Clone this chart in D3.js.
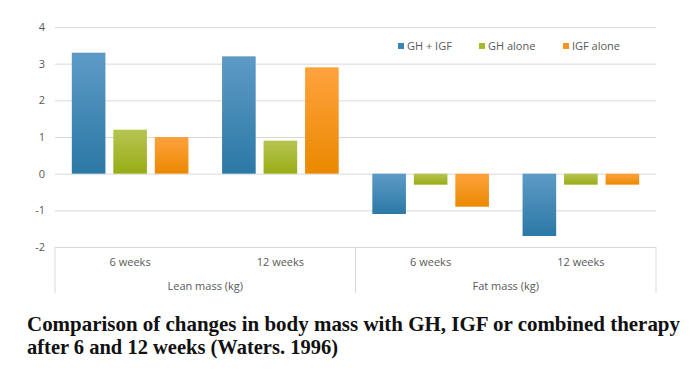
<!DOCTYPE html>
<html>
<head>
<meta charset="utf-8">
<script src="https://cdn.jsdelivr.net/npm/d3@7"></script>
<style>
  body { margin: 0; background: #fff; }
  svg { display: block; }
  .tick text { font-family: "Open Sans", sans-serif; font-size: 11px; fill: #595959; }
</style>
</head>
<body>
<div id="chart"></div>
<script>
// data
var groups = ["Lean mass (kg)", "Fat mass (kg)"];
var times = ["6 weeks", "12 weeks"];
var seriesNames = ["GH + IGF", "GH alone", "IGF alone"];
var ghIgf = [3.3, 3.2, -1.1, -1.7];
var ghAlone = [1.2, 0.9, -0.3, -0.3];
var igfAlone = [1.0, 2.9, -0.9, -0.3];
var yTicks = [-2, -1, 0, 1, 2, 3, 4];
var titleLines = [
  "Comparison of changes in body mass with GH, IGF or combined therapy",
  "after 6 and 12 weeks (Waters. 1996)"
];

var colors = [
  {top: "#5d9bc5", bottom: "#2c78a6", key: "#3a86b4"},
  {top: "#b6c552", bottom: "#98ad16", key: "#a6b92f"},
  {top: "#ffa23e", bottom: "#ea8900", key: "#f7931e"}
];

var svgWidth = 700, svgHeight = 374;
var plot = {left: 55, right: 656, top: 27, bottom: 247};

var svg = d3.select("#chart").append("svg")
  .attr("width", svgWidth)
  .attr("height", svgHeight);

// gradients for bars
var defs = svg.append("defs");
colors.forEach(function(c, i) {
  var g = defs.append("linearGradient")
    .attr("id", "grad" + i)
    .attr("x1", 0).attr("y1", 0).attr("x2", 0).attr("y2", 1);
  g.append("stop").attr("offset", "0%").attr("stop-color", c.top);
  g.append("stop").attr("offset", "100%").attr("stop-color", c.bottom);
});

// categories = group x time
var cats = [];
groups.forEach(function(g) {
  times.forEach(function(t) { cats.push(g + "|" + t); });
});

var values = [ghIgf, ghAlone, igfAlone];
var rows = cats.map(function(c, i) {
  return {cat: c, vals: values.map(function(v) { return v[i]; })};
});

var yScale = d3.scaleLinear().domain([-2, 4]).range([plot.bottom, plot.top]);
var x0 = d3.scaleBand().domain(cats).range([plot.left, plot.right]).padding(0);
var x1 = d3.scaleBand().domain(d3.range(3)).range([0, x0.bandwidth()])
  .paddingInner(0.19).paddingOuter(0.405);
var xGroup = d3.scaleBand().domain(groups).range([plot.left, plot.right]).padding(0);

// gridlines + y labels (plain hyphen for negatives, like the original)
var yAxis = d3.axisLeft(yScale)
  .tickValues(yTicks)
  .tickSize(-(plot.right - plot.left))
  .tickPadding(10)
  .tickFormat(function(d) { return String(d); });

svg.append("g")
  .attr("class", "yAxis")
  .attr("transform", "translate(" + plot.left + ",0)")
  .call(yAxis)
  .call(function(g) {
    g.select(".domain").remove();
    g.selectAll("line").attr("stroke", "#d9d9d9").attr("stroke-width", 1);
  });

// bars
var barGroups = svg.selectAll(".cat").data(rows).enter()
  .append("g")
  .attr("class", "cat")
  .attr("transform", function(d) { return "translate(" + x0(d.cat) + ",0)"; });

barGroups.selectAll("rect")
  .data(function(d) { return d.vals; })
  .enter()
  .append("rect")
  .attr("x", function(d, i) { return x1(i); })
  .attr("width", x1.bandwidth())
  .attr("y", function(d) { return yScale(Math.max(0, d)); })
  .attr("height", function(d) { return Math.abs(yScale(d) - yScale(0)); })
  .attr("fill", function(d, i) { return "url(#grad" + i + ")"; });

// multi level x axis
var axisG = svg.append("g").attr("class", "xAxis");
var axisBottom = 293;
[plot.left, xGroup("Fat mass (kg)"), plot.right].forEach(function(x) {
  axisG.append("line")
    .attr("x1", x).attr("x2", x)
    .attr("y1", plot.bottom).attr("y2", axisBottom)
    .attr("stroke", "#d9d9d9");
});

axisG.selectAll(".timeLabel").data(cats).enter()
  .append("text")
  .attr("class", "timeLabel")
  .attr("x", function(d) { return x0(d) + x0.bandwidth() / 2; })
  .attr("y", 266)
  .attr("text-anchor", "middle")
  .style("font-family", "Open Sans, sans-serif")
  .style("font-size", "11px")
  .style("fill", "#595959")
  .text(function(d) { return d.split("|")[1]; });

axisG.selectAll(".groupLabel").data(groups).enter()
  .append("text")
  .attr("class", "groupLabel")
  .attr("x", function(d) { return xGroup(d) + xGroup.bandwidth() / 2; })
  .attr("y", 290)
  .attr("text-anchor", "middle")
  .style("font-family", "Open Sans, sans-serif")
  .style("font-size", "11px")
  .style("fill", "#595959")
  .text(function(d) { return d; });

// legend
var legendX = [398, 479, 563];
var legend = svg.append("g").attr("class", "legend");
seriesNames.forEach(function(name, i) {
  legend.append("rect")
    .attr("x", legendX[i]).attr("y", 43)
    .attr("width", 6).attr("height", 6)
    .attr("fill", colors[i].key);
  legend.append("text")
    .attr("x", legendX[i] + 9).attr("y", 50)
    .style("font-family", "Open Sans, sans-serif")
    .style("font-size", "11px")
    .style("fill", "#595959")
    .text(name);
});

// title under the chart
var titleWidths = [653, 311];
svg.selectAll(".title").data(titleLines).enter()
  .append("text")
  .attr("class", "title")
  .attr("x", 27)
  .attr("y", function(d, i) { return 331 + i * 23; })
  .attr("textLength", function(d, i) { return titleWidths[i]; })
  .attr("lengthAdjust", "spacingAndGlyphs")
  .style("font-family", "Liberation Serif, serif")
  .style("font-weight", "bold")
  .style("font-size", "21px")
  .style("fill", "#111")
  .text(function(d) { return d; });
</script>
</body>
</html>
